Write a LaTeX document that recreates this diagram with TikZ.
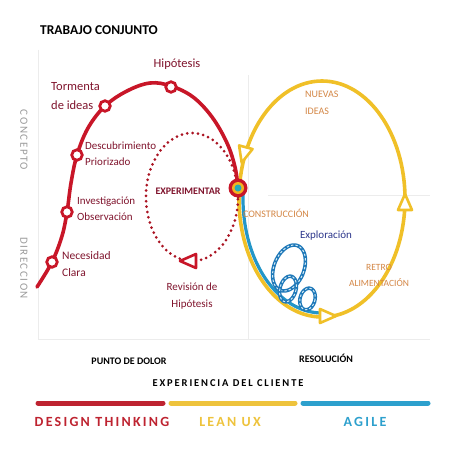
\documentclass[tikz,border=0pt]{standalone}
\usepackage{fontspec}
\setmainfont{Carlito}
\newfontfamily\spA[LetterSpace=14]{Carlito}
\newfontfamily\spB[LetterSpace=18]{Carlito}
\newfontfamily\spC[LetterSpace=16]{Carlito}
\definecolor{redc}{RGB}{200,22,40}
\definecolor{maroon}{RGB}{128,20,45}
\definecolor{yellowc}{RGB}{240,192,40}
\definecolor{bluec}{RGB}{35,150,200}
\definecolor{loopblue}{RGB}{30,120,185}
\definecolor{tealc}{RGB}{40,170,185}
\definecolor{orangec}{RGB}{212,135,70}
\definecolor{navyc}{RGB}{45,55,140}
\definecolor{axisgray}{RGB}{155,155,155}
\definecolor{faint}{RGB}{236,236,236}
\definecolor{barred}{RGB}{190,35,48}
\definecolor{baryel}{RGB}{238,195,60}
\definecolor{barblue}{RGB}{45,160,205}
\tikzset{
  lbl/.style={inner sep=0pt, text=maroon},
  ring/.style={circle, draw=redc, fill=white, line width=2.8pt, minimum size=10.5pt, inner sep=0pt},
  tri/.pic={\draw[pic actions, line width=2.6pt, fill=white, line join=round] (9,0) -- (-7,-7) -- (-7,7) -- cycle;},
  loopst/.style={draw=loopblue, line width=3.6pt, postaction={draw=white!80!bluec, line width=1pt, dash pattern=on 2.4pt off 2pt}},
  bar/.style={line width=5pt, line cap=round}
}
\begin{document}
\begin{tikzpicture}[x=1pt,y=-1pt]
\useasboundingbox[fill=white] (0,0) rectangle (452,452);
% faint frame
\draw[faint, line width=0.8pt] (38,50) -- (38,339) -- (430,339);
\draw[faint, line width=0.6pt] (248,75) -- (248,339);
\draw[faint, line width=0.6pt] (268,195) -- (430,195);
% title
\node[inner sep=0pt, font=\bfseries\fontsize{13.5}{14}\selectfont] (title) at (99,30) {TRABAJO CONJUNTO};
% axis labels
\node[inner sep=0pt, rotate=-90, text=axisgray, font=\spA\fontsize{11}{11}\selectfont] (concepto) at (24,140) {CONCEPTO};
\node[inner sep=0pt, rotate=-90, text=axisgray, font=\spA\fontsize{11}{11}\selectfont] (direccion) at (24,268) {DIRECCION};
% yellow loop
\draw[yellowc, line width=3.6pt] (322,199) ellipse [x radius=83pt, y radius=118pt];
% dotted red loop
\draw[redc!85!black, line width=3pt, line cap=round, dash pattern=on 0pt off 5.4pt] (192,197) ellipse [x radius=46pt, y radius=64pt];
% blue track
\draw[bluec, line width=3.2pt] plot[domain=185:90, samples=60, smooth] ({322+79*cos(\x)}, {199+114*sin(\x)});
% blue loops
\draw[loopst] plot[domain=0:360, samples=60, smooth] ({289+8.6*sin(\x)+14*cos(\x)}, {268-22.3*sin(\x)+5.4*cos(\x)}) -- cycle;
\draw[loopst] plot[domain=0:360, samples=50, smooth] ({288+3.4*sin(\x)+7.7*cos(\x)}, {289-12.6*sin(\x)+2.1*cos(\x)}) -- cycle;
\draw[loopst] plot[domain=0:360, samples=50, smooth] ({307.5+2.8*sin(\x)+7.2*cos(\x)}, {299-10.6*sin(\x)+1.9*cos(\x)}) -- cycle;
% red arc
\draw[redc, line width=3.6pt, line cap=round] plot[smooth, tension=0.6] coordinates {(37,287) (52,262) (62,236) (67,212) (71,183) (77,155) (88,128) (105,106) (127,91) (150,83) (171,86) (193,97) (212,117) (227,143) (235,167) (238,188)};
% rings on red arc
\node[ring] (n1) at (52,262) {};
\node[ring] (n2) at (67,212) {};
\node[ring] (n3) at (77,155) {};
\node[ring] (n4) at (105,106) {};
\node[ring] (n5) at (171,87) {};
% central node
\node[circle, fill=redc, minimum size=19pt, inner sep=0pt] (hub) at (238,188) {};
\node[circle, fill=yellowc!80!orange, minimum size=12pt, inner sep=0pt] at (hub) {};
\node[circle, fill=tealc, minimum size=7pt, inner sep=0pt] at (hub) {};
% arrow triangles
\pic[draw=yellowc, rotate=-105] at (244,154) {tri};
\pic[draw=yellowc, rotate=90] at (405,203) {tri};
\pic[draw=yellowc, rotate=0] at (327,316) {tri};
\pic[draw=redc, rotate=180] at (189,261) {tri};
% left labels
\node[lbl, anchor=south, font=\fontsize{12.5}{14}\selectfont] (hip) at (177,70) {Hipótesis};
\node[lbl, anchor=north west, align=left, font=\fontsize{12.5}{19}\selectfont] (torm) at (51,82) {Tormenta\\de ideas};
\node[lbl, anchor=north west, align=left, font=\fontsize{11}{16}\selectfont] (desc) at (85,142) {Descubrimiento\\Priorizado};
\node[lbl, anchor=north west, align=left, font=\fontsize{11}{15.5}\selectfont] (inv) at (77,197) {Investigación\\Observación};
\node[lbl, anchor=north west, align=left, font=\fontsize{11.5}{17}\selectfont] (nec) at (62,251) {Necesidad\\Clara};
\node[lbl, font=\bfseries\fontsize{10}{12}\selectfont] (exp) at (188,191) {EXPERIMENTAR};
\node[lbl, anchor=north, align=center, font=\fontsize{11}{17}\selectfont] (rev) at (192,283) {Revisión de\\Hipótesis};
% right labels
\node[inner sep=0pt, text=orangec, anchor=north west, align=left, font=\fontsize{10}{17}\selectfont] (nuevas) at (305,91) {NUEVAS\\IDEAS};
\node[inner sep=0pt, text=orangec, font=\fontsize{10}{12}\selectfont] (cons) at (276,213) {CONSTRUCCIÓN};
\node[inner sep=0pt, text=navyc, font=\fontsize{11}{12}\selectfont] (explo) at (326,236) {Exploración};
\node[inner sep=0pt, text=orangec, anchor=north, align=center, font=\fontsize{9.5}{16}\selectfont] (retro) at (379,264) {RETRO\\ALIMENTACIÓN};
% bottom
\node[inner sep=0pt, font=\bfseries\fontsize{10}{11}\selectfont] (dolor) at (129,361) {PUNTO DE DOLOR};
\node[inner sep=0pt, font=\bfseries\fontsize{10}{11}\selectfont] (resol) at (326,358) {RESOLUCIÓN};
\node[inner sep=0pt, font=\spB\bfseries\fontsize{10.5}{12}\selectfont] (cx) at (228,383) {EXPERIENCIA DEL CLIENTE};
\coordinate (r1) at (38,403); \coordinate (r2) at (163,403);
\coordinate (y1) at (171,403); \coordinate (y2) at (295,403);
\coordinate (b1) at (303,403); \coordinate (b2) at (428,403);
\draw[bar, barred] (r1) -- (r2);
\draw[bar, baryel] (y1) -- (y2);
\draw[bar, barblue] (b1) -- (b2);
\node[inner sep=0pt, text=barred, font=\spC\bfseries\fontsize{14}{16}\selectfont] (dt) at (102,422) {DESIGN THINKING};
\node[inner sep=0pt, text=baryel, font=\spC\bfseries\fontsize{14}{16}\selectfont] (lean) at (230,422) {LEAN UX};
\node[inner sep=0pt, text=barblue, font=\spC\bfseries\fontsize{14}{16}\selectfont] (agile) at (365,422) {AGILE};
\end{tikzpicture}
\end{document}
